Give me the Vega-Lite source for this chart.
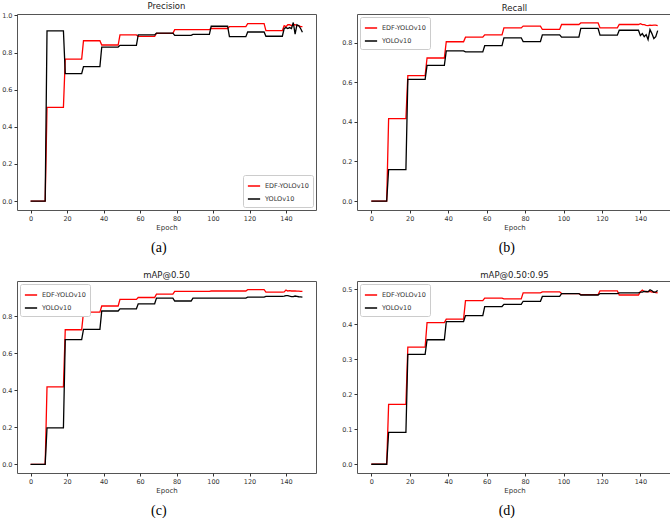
{
  "$schema": "https://vega.github.io/schema/vega-lite/v6.json",
  "padding": {"left": 1, "top": 1, "right": 0, "bottom": 0},
  "background": "white",
  "config": {
    "view": {"stroke": "#555", "strokeWidth": 1},
    "axis": {"labelFont": "DejaVu Sans", "labelFontSize": 6.5, "labelColor": "#333", "tickColor": "#333", "tickSize": 3, "domain": false, "grid": false, "labelPadding": 2, "titleFont": "DejaVu Sans", "titleFontSize": 7, "titleFontWeight": "normal", "titleColor": "#333", "titlePadding": 2},
    "title": {"font": "DejaVu Sans", "fontSize": 8.5, "fontWeight": "normal", "offset": 2, "color": "#222", "anchor": "middle"},
    "legend": {"title": null, "labelFont": "DejaVu Sans", "labelFontSize": 6.5, "labelColor": "#333", "symbolType": "stroke", "symbolStrokeWidth": 1.5, "symbolSize": 150, "strokeColor": "#ccc", "fillColor": "white", "padding": 4, "rowPadding": 2, "cornerRadius": 2, "offset": 3}
  },
  "datasets": {
    "prec": [
      {"e":0,"EDF-YOLOv10":0,"YOLOv10":0},{"e":8,"EDF-YOLOv10":0,"YOLOv10":0},
      {"e":9,"EDF-YOLOv10":0.505,"YOLOv10":0.917},{"e":18,"EDF-YOLOv10":0.505,"YOLOv10":0.917},
      {"e":19,"EDF-YOLOv10":0.765,"YOLOv10":0.687},{"e":28,"EDF-YOLOv10":0.765,"YOLOv10":0.687},
      {"e":29,"EDF-YOLOv10":0.864,"YOLOv10":0.725},{"e":38,"EDF-YOLOv10":0.864,"YOLOv10":0.725},
      {"e":39,"EDF-YOLOv10":0.841,"YOLOv10":0.83},{"e":48,"EDF-YOLOv10":0.841,"YOLOv10":0.83},
      {"e":49,"EDF-YOLOv10":0.895,"YOLOv10":0.839},{"e":58,"EDF-YOLOv10":0.895,"YOLOv10":0.839},
      {"e":59,"EDF-YOLOv10":0.887,"YOLOv10":0.895},{"e":68,"EDF-YOLOv10":0.887,"YOLOv10":0.895},
      {"e":69,"EDF-YOLOv10":0.904,"YOLOv10":0.905},{"e":78,"EDF-YOLOv10":0.904,"YOLOv10":0.905},
      {"e":79,"EDF-YOLOv10":0.924,"YOLOv10":0.893},{"e":88,"EDF-YOLOv10":0.924,"YOLOv10":0.893},
      {"e":89,"EDF-YOLOv10":0.924,"YOLOv10":0.898},{"e":98,"EDF-YOLOv10":0.924,"YOLOv10":0.898},
      {"e":99,"EDF-YOLOv10":0.93,"YOLOv10":0.942},{"e":108,"EDF-YOLOv10":0.93,"YOLOv10":0.942},
      {"e":109,"EDF-YOLOv10":0.94,"YOLOv10":0.886},{"e":118,"EDF-YOLOv10":0.94,"YOLOv10":0.886},
      {"e":119,"EDF-YOLOv10":0.956,"YOLOv10":0.911},{"e":128,"EDF-YOLOv10":0.956,"YOLOv10":0.911},
      {"e":129,"EDF-YOLOv10":0.918,"YOLOv10":0.888},{"e":138,"EDF-YOLOv10":0.918,"YOLOv10":0.888},
      {"e":139,"EDF-YOLOv10":0.945,"YOLOv10":0.93},{"e":140,"EDF-YOLOv10":0.94,"YOLOv10":0.935},
      {"e":141,"EDF-YOLOv10":0.95,"YOLOv10":0.93},{"e":142,"EDF-YOLOv10":0.95,"YOLOv10":0.935},
      {"e":143,"EDF-YOLOv10":0.945,"YOLOv10":0.93},{"e":144,"EDF-YOLOv10":0.95,"YOLOv10":0.962},
      {"e":145,"EDF-YOLOv10":0.95,"YOLOv10":0.9},{"e":146,"EDF-YOLOv10":0.945,"YOLOv10":0.95},
      {"e":147,"EDF-YOLOv10":0.945,"YOLOv10":0.945},{"e":148,"EDF-YOLOv10":0.94,"YOLOv10":0.93},
      {"e":149,"EDF-YOLOv10":0.94,"YOLOv10":0.91}
    ],
    "rec": [
      {"e":0,"EDF-YOLOv10":0,"YOLOv10":0},{"e":8,"EDF-YOLOv10":0,"YOLOv10":0},
      {"e":9,"EDF-YOLOv10":0.416,"YOLOv10":0.159},{"e":18,"EDF-YOLOv10":0.416,"YOLOv10":0.159},
      {"e":19,"EDF-YOLOv10":0.633,"YOLOv10":0.614},{"e":28,"EDF-YOLOv10":0.633,"YOLOv10":0.614},
      {"e":29,"EDF-YOLOv10":0.722,"YOLOv10":0.685},{"e":38,"EDF-YOLOv10":0.722,"YOLOv10":0.685},
      {"e":39,"EDF-YOLOv10":0.804,"YOLOv10":0.758},{"e":48,"EDF-YOLOv10":0.804,"YOLOv10":0.758},
      {"e":49,"EDF-YOLOv10":0.827,"YOLOv10":0.753},{"e":58,"EDF-YOLOv10":0.827,"YOLOv10":0.753},
      {"e":59,"EDF-YOLOv10":0.839,"YOLOv10":0.784},{"e":68,"EDF-YOLOv10":0.839,"YOLOv10":0.784},
      {"e":69,"EDF-YOLOv10":0.874,"YOLOv10":0.824},{"e":78,"EDF-YOLOv10":0.874,"YOLOv10":0.824},
      {"e":79,"EDF-YOLOv10":0.883,"YOLOv10":0.805},{"e":88,"EDF-YOLOv10":0.883,"YOLOv10":0.805},
      {"e":89,"EDF-YOLOv10":0.866,"YOLOv10":0.839},{"e":98,"EDF-YOLOv10":0.866,"YOLOv10":0.839},
      {"e":99,"EDF-YOLOv10":0.891,"YOLOv10":0.827},{"e":108,"EDF-YOLOv10":0.891,"YOLOv10":0.827},
      {"e":109,"EDF-YOLOv10":0.899,"YOLOv10":0.871},{"e":118,"EDF-YOLOv10":0.899,"YOLOv10":0.871},
      {"e":119,"EDF-YOLOv10":0.874,"YOLOv10":0.837},{"e":128,"EDF-YOLOv10":0.874,"YOLOv10":0.837},
      {"e":129,"EDF-YOLOv10":0.891,"YOLOv10":0.862},{"e":138,"EDF-YOLOv10":0.891,"YOLOv10":0.862},
      {"e":139,"EDF-YOLOv10":0.891,"YOLOv10":0.862},{"e":140,"EDF-YOLOv10":0.895,"YOLOv10":0.835},
      {"e":141,"EDF-YOLOv10":0.89,"YOLOv10":0.845},{"e":142,"EDF-YOLOv10":0.89,"YOLOv10":0.83},
      {"e":143,"EDF-YOLOv10":0.887,"YOLOv10":0.84},{"e":144,"EDF-YOLOv10":0.885,"YOLOv10":0.815},
      {"e":145,"EDF-YOLOv10":0.888,"YOLOv10":0.865},{"e":146,"EDF-YOLOv10":0.887,"YOLOv10":0.845},
      {"e":147,"EDF-YOLOv10":0.888,"YOLOv10":0.82},{"e":148,"EDF-YOLOv10":0.888,"YOLOv10":0.83},
      {"e":149,"EDF-YOLOv10":0.885,"YOLOv10":0.86}
    ],
    "map50": [
      {"e":0,"EDF-YOLOv10":0,"YOLOv10":0},{"e":8,"EDF-YOLOv10":0,"YOLOv10":0},
      {"e":9,"EDF-YOLOv10":0.418,"YOLOv10":0.197},{"e":18,"EDF-YOLOv10":0.418,"YOLOv10":0.197},
      {"e":19,"EDF-YOLOv10":0.726,"YOLOv10":0.673},{"e":28,"EDF-YOLOv10":0.726,"YOLOv10":0.673},
      {"e":29,"EDF-YOLOv10":0.821,"YOLOv10":0.728},{"e":38,"EDF-YOLOv10":0.821,"YOLOv10":0.728},
      {"e":39,"EDF-YOLOv10":0.854,"YOLOv10":0.827},{"e":48,"EDF-YOLOv10":0.854,"YOLOv10":0.827},
      {"e":49,"EDF-YOLOv10":0.89,"YOLOv10":0.839},{"e":58,"EDF-YOLOv10":0.89,"YOLOv10":0.839},
      {"e":59,"EDF-YOLOv10":0.9,"YOLOv10":0.866},{"e":68,"EDF-YOLOv10":0.9,"YOLOv10":0.866},
      {"e":69,"EDF-YOLOv10":0.918,"YOLOv10":0.897},{"e":78,"EDF-YOLOv10":0.918,"YOLOv10":0.897},
      {"e":79,"EDF-YOLOv10":0.933,"YOLOv10":0.881},{"e":88,"EDF-YOLOv10":0.933,"YOLOv10":0.881},
      {"e":89,"EDF-YOLOv10":0.933,"YOLOv10":0.897},{"e":98,"EDF-YOLOv10":0.933,"YOLOv10":0.897},
      {"e":99,"EDF-YOLOv10":0.935,"YOLOv10":0.897},{"e":108,"EDF-YOLOv10":0.935,"YOLOv10":0.897},
      {"e":109,"EDF-YOLOv10":0.935,"YOLOv10":0.897},{"e":118,"EDF-YOLOv10":0.935,"YOLOv10":0.897},
      {"e":119,"EDF-YOLOv10":0.942,"YOLOv10":0.902},{"e":128,"EDF-YOLOv10":0.942,"YOLOv10":0.902},
      {"e":129,"EDF-YOLOv10":0.929,"YOLOv10":0.906},{"e":138,"EDF-YOLOv10":0.929,"YOLOv10":0.906},
      {"e":139,"EDF-YOLOv10":0.93,"YOLOv10":0.907},{"e":140,"EDF-YOLOv10":0.94,"YOLOv10":0.91},
      {"e":141,"EDF-YOLOv10":0.935,"YOLOv10":0.91},{"e":142,"EDF-YOLOv10":0.937,"YOLOv10":0.907},
      {"e":143,"EDF-YOLOv10":0.935,"YOLOv10":0.905},{"e":144,"EDF-YOLOv10":0.936,"YOLOv10":0.905},
      {"e":145,"EDF-YOLOv10":0.935,"YOLOv10":0.908},{"e":146,"EDF-YOLOv10":0.934,"YOLOv10":0.906},
      {"e":147,"EDF-YOLOv10":0.934,"YOLOv10":0.904},{"e":148,"EDF-YOLOv10":0.933,"YOLOv10":0.903},
      {"e":149,"EDF-YOLOv10":0.933,"YOLOv10":0.902}
    ],
    "map5095": [
      {"e":0,"EDF-YOLOv10":0,"YOLOv10":0},{"e":8,"EDF-YOLOv10":0,"YOLOv10":0},
      {"e":9,"EDF-YOLOv10":0.171,"YOLOv10":0.091},{"e":18,"EDF-YOLOv10":0.171,"YOLOv10":0.091},
      {"e":19,"EDF-YOLOv10":0.335,"YOLOv10":0.314},{"e":28,"EDF-YOLOv10":0.335,"YOLOv10":0.314},
      {"e":29,"EDF-YOLOv10":0.405,"YOLOv10":0.356},{"e":38,"EDF-YOLOv10":0.405,"YOLOv10":0.356},
      {"e":39,"EDF-YOLOv10":0.415,"YOLOv10":0.408},{"e":48,"EDF-YOLOv10":0.415,"YOLOv10":0.408},
      {"e":49,"EDF-YOLOv10":0.468,"YOLOv10":0.425},{"e":58,"EDF-YOLOv10":0.468,"YOLOv10":0.425},
      {"e":59,"EDF-YOLOv10":0.475,"YOLOv10":0.451},{"e":68,"EDF-YOLOv10":0.475,"YOLOv10":0.451},
      {"e":69,"EDF-YOLOv10":0.473,"YOLOv10":0.457},{"e":78,"EDF-YOLOv10":0.473,"YOLOv10":0.457},
      {"e":79,"EDF-YOLOv10":0.49,"YOLOv10":0.466},{"e":88,"EDF-YOLOv10":0.49,"YOLOv10":0.466},
      {"e":89,"EDF-YOLOv10":0.493,"YOLOv10":0.48},{"e":98,"EDF-YOLOv10":0.493,"YOLOv10":0.48},
      {"e":99,"EDF-YOLOv10":0.488,"YOLOv10":0.488},{"e":108,"EDF-YOLOv10":0.488,"YOLOv10":0.488},
      {"e":109,"EDF-YOLOv10":0.485,"YOLOv10":0.484},{"e":118,"EDF-YOLOv10":0.485,"YOLOv10":0.484},
      {"e":119,"EDF-YOLOv10":0.496,"YOLOv10":0.488},{"e":128,"EDF-YOLOv10":0.496,"YOLOv10":0.488},
      {"e":129,"EDF-YOLOv10":0.484,"YOLOv10":0.49},{"e":138,"EDF-YOLOv10":0.484,"YOLOv10":0.49},
      {"e":139,"EDF-YOLOv10":0.484,"YOLOv10":0.49},{"e":140,"EDF-YOLOv10":0.493,"YOLOv10":0.492},
      {"e":141,"EDF-YOLOv10":0.498,"YOLOv10":0.492},{"e":142,"EDF-YOLOv10":0.494,"YOLOv10":0.494},
      {"e":143,"EDF-YOLOv10":0.493,"YOLOv10":0.494},{"e":144,"EDF-YOLOv10":0.494,"YOLOv10":0.493},
      {"e":145,"EDF-YOLOv10":0.494,"YOLOv10":0.499},{"e":146,"EDF-YOLOv10":0.492,"YOLOv10":0.496},
      {"e":147,"EDF-YOLOv10":0.492,"YOLOv10":0.492},{"e":148,"EDF-YOLOv10":0.491,"YOLOv10":0.493},
      {"e":149,"EDF-YOLOv10":0.49,"YOLOv10":0.497}
    ]
  },
  "resolve": {"scale": {"color": "independent"}},
  "spacing": 15,
  "vconcat": [
    {
      "hconcat": [
        {
          "title": {"text": "(a)", "orient": "bottom", "anchor": "middle", "font": "Liberation Serif", "fontSize": 14, "fontWeight": "normal", "offset": 10, "color": "#000"},
          "resolve": {"scale": {"color": "independent"}},
          "vconcat": [{
            "title": "Precision",
            "width": 299, "height": 196,
            "data": {"name": "prec"},
            "transform": [{"fold": ["EDF-YOLOv10", "YOLOv10"], "as": ["s", "v"]}],
            "mark": {"type": "line", "strokeWidth": 1.3},
            "encoding": {
              "x": {"field": "e", "type": "quantitative", "scale": {"domain": [-7.45, 156.45], "nice": false, "zero": false}, "axis": {"values": [0,20,40,60,80,100,120,140], "title": "Epoch"}},
              "y": {"field": "v", "type": "quantitative", "scale": {"domain": [-0.048, 1.008], "nice": false, "zero": false}, "axis": {"values": [0,0.2,0.4,0.6,0.8,1.0], "format": ".1f", "title": null}},
              "color": {"field": "s", "type": "nominal", "scale": {"domain": ["EDF-YOLOv10", "YOLOv10"], "range": ["#ff0000", "#000000"]}, "legend": {"orient": "bottom-right"}}
            }
          }]
        },
        {
          "title": {"text": "(b)", "orient": "bottom", "anchor": "middle", "font": "Liberation Serif", "fontSize": 14, "fontWeight": "normal", "offset": 10, "color": "#000"},
          "resolve": {"scale": {"color": "independent"}},
          "vconcat": [{
            "title": "Recall",
            "width": 315, "height": 196,
            "data": {"name": "rec"},
            "transform": [{"fold": ["EDF-YOLOv10", "YOLOv10"], "as": ["s", "v"]}],
            "mark": {"type": "line", "strokeWidth": 1.3},
            "encoding": {
              "x": {"field": "e", "type": "quantitative", "scale": {"domain": [-7.45, 156.45], "nice": false, "zero": false}, "axis": {"values": [0,20,40,60,80,100,120,140], "title": "Epoch"}},
              "y": {"field": "v", "type": "quantitative", "scale": {"domain": [-0.045, 0.944], "nice": false, "zero": false}, "axis": {"values": [0,0.2,0.4,0.6,0.8], "format": ".1f", "title": null}},
              "color": {"field": "s", "type": "nominal", "scale": {"domain": ["EDF-YOLOv10", "YOLOv10"], "range": ["#ff0000", "#000000"]}, "legend": {"orient": "top-left"}}
            }
          }]
        }
      ],
      "spacing": 24,
      "resolve": {"scale": {"color": "independent"}}
    },
    {
      "hconcat": [
        {
          "title": {"text": "(c)", "orient": "bottom", "anchor": "middle", "font": "Liberation Serif", "fontSize": 14, "fontWeight": "normal", "offset": 10, "color": "#000"},
          "resolve": {"scale": {"color": "independent"}},
          "vconcat": [{
            "title": "mAP@0.50",
            "width": 299, "height": 192,
            "data": {"name": "map50"},
            "transform": [{"fold": ["EDF-YOLOv10", "YOLOv10"], "as": ["s", "v"]}],
            "mark": {"type": "line", "strokeWidth": 1.3},
            "encoding": {
              "x": {"field": "e", "type": "quantitative", "scale": {"domain": [-7.45, 156.45], "nice": false, "zero": false}, "axis": {"values": [0,20,40,60,80,100,120,140], "title": "Epoch"}},
              "y": {"field": "v", "type": "quantitative", "scale": {"domain": [-0.047, 0.989], "nice": false, "zero": false}, "axis": {"values": [0,0.2,0.4,0.6,0.8], "format": ".1f", "title": null}},
              "color": {"field": "s", "type": "nominal", "scale": {"domain": ["EDF-YOLOv10", "YOLOv10"], "range": ["#ff0000", "#000000"]}, "legend": {"orient": "top-left"}}
            }
          }]
        },
        {
          "title": {"text": "(d)", "orient": "bottom", "anchor": "middle", "font": "Liberation Serif", "fontSize": 14, "fontWeight": "normal", "offset": 10, "color": "#000"},
          "resolve": {"scale": {"color": "independent"}},
          "vconcat": [{
            "title": "mAP@0.50:0.95",
            "width": 315, "height": 192,
            "data": {"name": "map5095"},
            "transform": [{"fold": ["EDF-YOLOv10", "YOLOv10"], "as": ["s", "v"]}],
            "mark": {"type": "line", "strokeWidth": 1.3},
            "encoding": {
              "x": {"field": "e", "type": "quantitative", "scale": {"domain": [-7.45, 156.45], "nice": false, "zero": false}, "axis": {"values": [0,20,40,60,80,100,120,140], "title": "Epoch"}},
              "y": {"field": "v", "type": "quantitative", "scale": {"domain": [-0.025, 0.524], "nice": false, "zero": false}, "axis": {"values": [0,0.1,0.2,0.3,0.4,0.5], "format": ".1f", "title": null}},
              "color": {"field": "s", "type": "nominal", "scale": {"domain": ["EDF-YOLOv10", "YOLOv10"], "range": ["#ff0000", "#000000"]}, "legend": {"orient": "top-left"}}
            }
          }]
        }
      ],
      "spacing": 24,
      "resolve": {"scale": {"color": "independent"}}
    }
  ]
}
